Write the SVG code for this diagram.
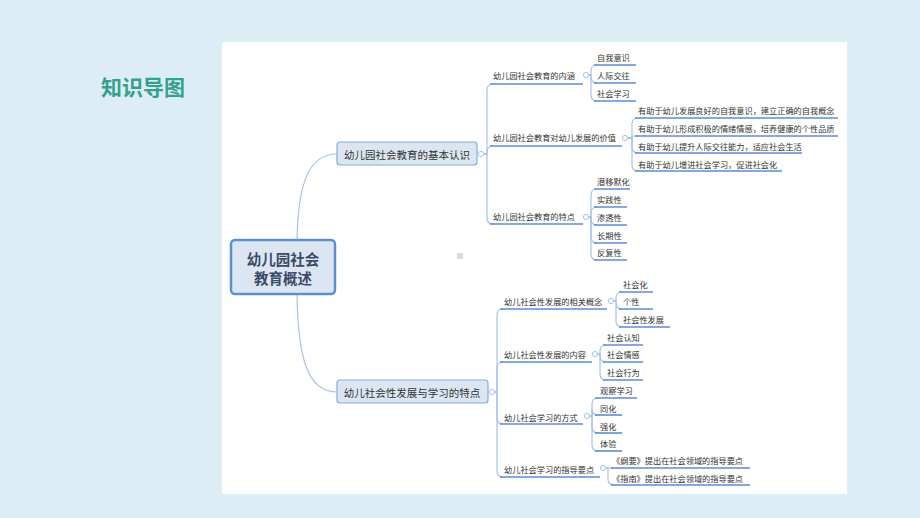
<svg xmlns="http://www.w3.org/2000/svg" width="920" height="518" viewBox="0 0 920 518">
<style>
.t{font-family:"Noto Sans CJK SC","Noto Sans",sans-serif;font-size:8.2px;fill:#333;dominant-baseline:central}
.b{font-family:"Noto Sans CJK SC","Noto Sans",sans-serif;font-size:10.5px;fill:#333;dominant-baseline:central;text-anchor:middle}
.ul{stroke:#5a8dd6;stroke-width:1.6;fill:none}
.c{stroke:#a8c3e8;stroke-width:1.2;fill:none}
.k{stroke:#a8c3e8;stroke-width:1;fill:#fff}
</style>
<rect x="0" y="0" width="920" height="518" fill="#dcedf6"/>
<rect x="222" y="42" width="625" height="452" fill="#ffffff"/>
<text x="101" y="86" font-family="'Noto Sans CJK SC',sans-serif" font-size="21" font-weight="bold" fill="#34a08d" dominant-baseline="central">知识导图</text>
<rect x="457" y="253" width="6" height="6" fill="#d9d9d9"/>

<g id="connectors">
<path class="c" d="M297,240 C298,185 308,154 337,154"/>
<path class="c" d="M297,294 C298,360 308,392 337,392"/>
<path class="c" d="M484,154 H487 V90 Q487,84 493,84"/>
<path class="c" d="M484,154 H487 V152 Q487,146 493,146"/>
<path class="c" d="M484,154 H487 V218 Q487,224 493,224"/>
<path class="c" d="M589,75 H591 V71 Q591,65 597,65"/>
<path class="c" d="M589,75 H591 V77 Q591,83 597,83"/>
<path class="c" d="M589,75 H591 V95 Q591,101 597,101"/>
<path class="c" d="M628,138 H632 V124 Q632,118 638,118"/>
<path class="c" d="M628,138 H632 V136 Q632,136 638,136"/>
<path class="c" d="M628,138 H632 V147 Q632,153 638,153"/>
<path class="c" d="M628,138 H632 V165 Q632,171 638,171"/>
<path class="c" d="M589,217 H591 V195 Q591,189 597,189"/>
<path class="c" d="M589,217 H591 V213 Q591,207 597,207"/>
<path class="c" d="M589,217 H591 V219 Q591,225 597,225"/>
<path class="c" d="M589,217 H591 V237 Q591,243 597,243"/>
<path class="c" d="M589,217 H591 V254 Q591,260 597,260"/>
<path class="c" d="M495,392 H497 V315 Q497,309 503,309"/>
<path class="c" d="M495,392 H497 V368 Q497,362 503,362"/>
<path class="c" d="M495,392 H497 V418 Q497,424 503,424"/>
<path class="c" d="M495,392 H497 V471 Q497,477 503,477"/>
<path class="c" d="M614,301 H616 V298 Q616,292 622,292"/>
<path class="c" d="M614,301 H616 V303 Q616,309 622,309"/>
<path class="c" d="M614,301 H616 V321 Q616,327 622,327"/>
<path class="c" d="M598,354 H600 V351 Q600,345 606,345"/>
<path class="c" d="M598,354 H600 V356 Q600,362 606,362"/>
<path class="c" d="M598,354 H600 V374 Q600,380 606,380"/>
<path class="c" d="M590,416 H592 V404 Q592,398 598,398"/>
<path class="c" d="M590,416 H592 V409 Q592,415 598,415"/>
<path class="c" d="M590,416 H592 V427 Q592,433 598,433"/>
<path class="c" d="M590,416 H592 V445 Q592,451 598,451"/>
<path class="c" d="M606,468 H608 V468 Q608,468 614,468"/>
<path class="c" d="M606,468 H608 V479 Q608,485 614,485"/>
</g>

<g id="root">
<rect x="231" y="240" width="104" height="54" rx="4" fill="#dce6f2" stroke="#5b8fd2" stroke-width="2.5"/>
<text x="283" y="258" font-family="'Noto Sans CJK SC',sans-serif" font-size="14.5" font-weight="bold" fill="#3b4a68" text-anchor="middle" dominant-baseline="central">幼儿园社会</text>
<text x="283" y="277" font-family="'Noto Sans CJK SC',sans-serif" font-size="14.5" font-weight="bold" fill="#3b4a68" text-anchor="middle" dominant-baseline="central">教育概述</text>
</g>

<g id="branch1">
<rect x="337" y="142" width="140" height="23" rx="3" fill="#dce6f2" stroke="#86abdb" stroke-width="1.2"/>
<text class="b" x="407" y="154">幼儿园社会教育的基本认识</text>
<circle class="k" cx="481" cy="154" r="2.6"/>
</g>
<g id="branch2">
<rect x="337" y="380" width="151" height="23" rx="3" fill="#dce6f2" stroke="#86abdb" stroke-width="1.2"/>
<text class="b" x="412" y="392">幼儿社会性发展与学习的特点</text>
<circle class="k" cx="492" cy="392" r="2.6"/>
</g>

<g id="n-neihan"><text class="t" x="493" y="75">幼儿园社会教育的内涵</text><line class="ul" x1="490" y1="84" x2="583" y2="84"/><circle class="k" cx="586" cy="75" r="2.6"/></g>
<g id="n-ziwo"><text class="t" x="597" y="57">自我意识</text><line class="ul" x1="594" y1="65" x2="636" y2="65"/></g>
<g id="n-renji"><text class="t" x="597" y="75">人际交往</text><line class="ul" x1="594" y1="83" x2="636" y2="83"/></g>
<g id="n-shehuixuexi"><text class="t" x="597" y="93">社会学习</text><line class="ul" x1="594" y1="101" x2="636" y2="101"/></g>

<g id="n-jiazhi"><text class="t" x="493" y="137">幼儿园社会教育对幼儿发展的价值</text><line class="ul" x1="490" y1="146" x2="622" y2="146"/><circle class="k" cx="625" cy="138" r="2.6"/></g>
<g id="n-v1"><text class="t" x="638" y="110">有助于幼儿发展良好的自我意识，建立正确的自我概念</text><line class="ul" x1="635" y1="118" x2="838" y2="118"/></g>
<g id="n-v2"><text class="t" x="638" y="128">有助于幼儿形成积极的情绪情感，培养健康的个性品质</text><line class="ul" x1="635" y1="136" x2="838" y2="136"/></g>
<g id="n-v3"><text class="t" x="638" y="146">有助于幼儿提升人际交往能力，适应社会生活</text><line class="ul" x1="635" y1="153" x2="802" y2="153"/></g>
<g id="n-v4"><text class="t" x="638" y="164">有助于幼儿增进社会学习，促进社会化</text><line class="ul" x1="635" y1="171" x2="782" y2="171"/></g>

<g id="n-tedian"><text class="t" x="493" y="216">幼儿园社会教育的特点</text><line class="ul" x1="490" y1="224" x2="583" y2="224"/><circle class="k" cx="586" cy="217" r="2.6"/></g>
<g id="n-qianyi"><text class="t" x="597" y="181">潜移默化</text><line class="ul" x1="594" y1="189" x2="630" y2="189"/></g>
<g id="n-shijian"><text class="t" x="597" y="199">实践性</text><line class="ul" x1="594" y1="207" x2="627" y2="207"/></g>
<g id="n-shentou"><text class="t" x="597" y="217">渗透性</text><line class="ul" x1="594" y1="225" x2="627" y2="225"/></g>
<g id="n-changqi"><text class="t" x="597" y="235">长期性</text><line class="ul" x1="594" y1="243" x2="627" y2="243"/></g>
<g id="n-fanfu"><text class="t" x="597" y="252">反复性</text><line class="ul" x1="594" y1="260" x2="627" y2="260"/></g>

<g id="n-gainian"><text class="t" x="504" y="301">幼儿社会性发展的相关概念</text><line class="ul" x1="500" y1="309" x2="607" y2="309"/><circle class="k" cx="611" cy="301" r="2.6"/></g>
<g id="n-shehuihua"><text class="t" x="623" y="284">社会化</text><line class="ul" x1="619" y1="292" x2="653" y2="292"/></g>
<g id="n-gexing"><text class="t" x="623" y="301">个性</text><line class="ul" x1="619" y1="309" x2="653" y2="309"/></g>
<g id="n-shxfz"><text class="t" x="623" y="319">社会性发展</text><line class="ul" x1="619" y1="327" x2="670" y2="327"/></g>

<g id="n-neirong"><text class="t" x="504" y="354">幼儿社会性发展的内容</text><line class="ul" x1="500" y1="362" x2="592" y2="362"/><circle class="k" cx="595" cy="354" r="2.6"/></g>
<g id="n-renzhi"><text class="t" x="607" y="337">社会认知</text><line class="ul" x1="603" y1="345" x2="643" y2="345"/></g>
<g id="n-qinggan"><text class="t" x="607" y="354">社会情感</text><line class="ul" x1="603" y1="362" x2="643" y2="362"/></g>
<g id="n-xingwei"><text class="t" x="607" y="372">社会行为</text><line class="ul" x1="603" y1="380" x2="643" y2="380"/></g>

<g id="n-fangshi"><text class="t" x="504" y="417">幼儿社会学习的方式</text><line class="ul" x1="500" y1="424" x2="583" y2="424"/><circle class="k" cx="587" cy="416" r="2.6"/></g>
<g id="n-guancha"><text class="t" x="600" y="390">观察学习</text><line class="ul" x1="595" y1="398" x2="637" y2="398"/></g>
<g id="n-tonghua"><text class="t" x="600" y="408">同化</text><line class="ul" x1="595" y1="415" x2="622" y2="415"/></g>
<g id="n-qianghua"><text class="t" x="600" y="426">强化</text><line class="ul" x1="595" y1="433" x2="622" y2="433"/></g>
<g id="n-tiyan"><text class="t" x="600" y="443">体验</text><line class="ul" x1="595" y1="451" x2="622" y2="451"/></g>

<g id="n-yaodian"><text class="t" x="504" y="469">幼儿社会学习的指导要点</text><line class="ul" x1="500" y1="477" x2="600" y2="477"/><circle class="k" cx="603" cy="468" r="2.6"/></g>
<g id="n-gangyao"><text class="t" x="612" y="460">《纲要》提出在社会领域的指导要点</text><line class="ul" x1="611" y1="468" x2="750" y2="468"/></g>
<g id="n-zhinan"><text class="t" x="612" y="478">《指南》提出在社会领域的指导要点</text><line class="ul" x1="611" y1="485" x2="750" y2="485"/></g>
</svg>
